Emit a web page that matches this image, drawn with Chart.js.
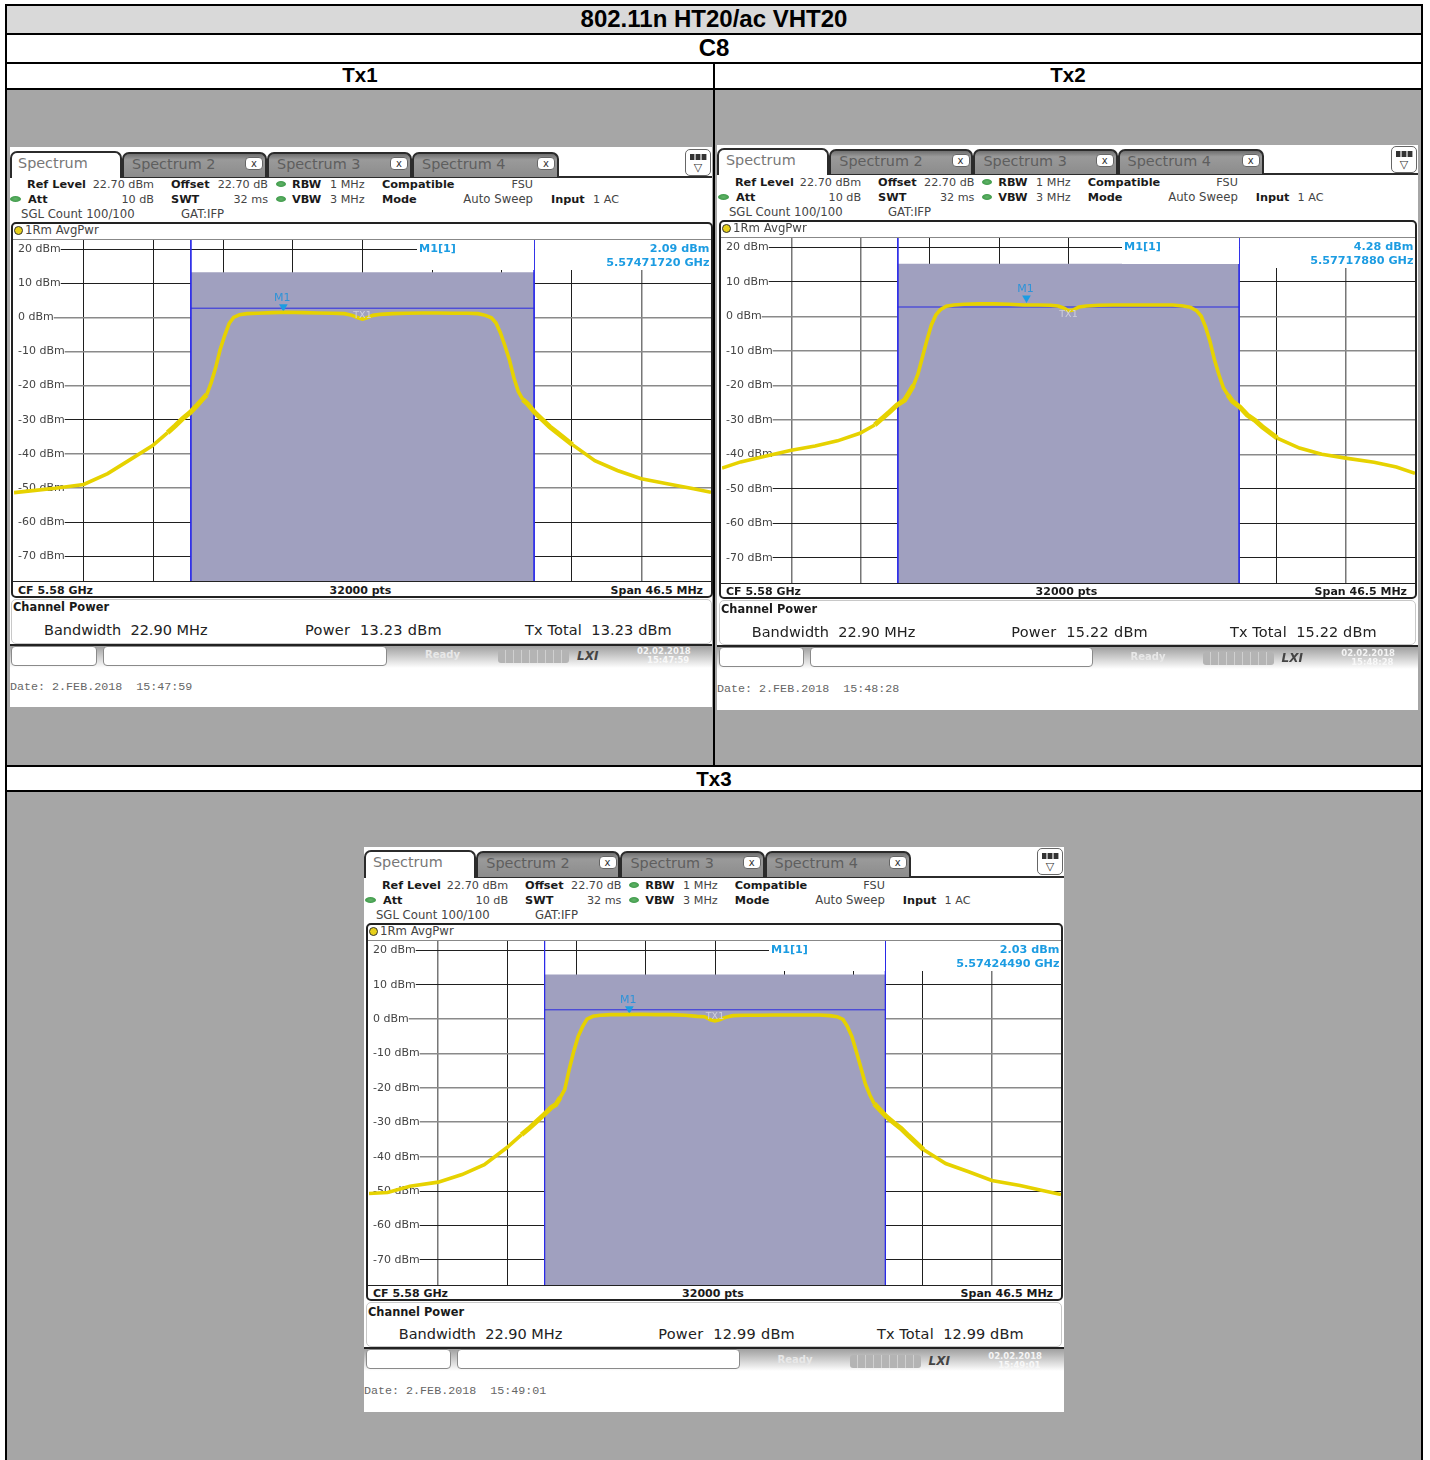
<!DOCTYPE html>
<html>
<head>
<meta charset="utf-8">
<title>802.11n HT20/ac VHT20 C8</title>
<script src="https://cdn.jsdelivr.net/npm/chart.js@4"></script>
<style>
html, body { margin: 0; padding: 0; background: #fff; }
#page { position: relative; width: 1430px; height: 1460px; overflow: hidden; font-family: "DejaVu Sans", sans-serif; }
#page div, #page canvas { position: absolute; box-sizing: border-box; }
.t { white-space: pre; line-height: 1; }
.head { font-family: "Liberation Sans", sans-serif; font-weight: bold; color: #000; text-align: center; line-height: 1; }
.tab { background: linear-gradient(#6f6f6f, #9a9a9a 25%, #8c8c8c); border: 2px solid #2b2b2b; border-bottom: 0; border-radius: 7px 7px 0 0; }
.tabOn { background: #fff; border: 2px solid #2b2b2b; border-bottom: 0; border-radius: 7px 7px 0 0; }
.x { background: #fff; border: 1px solid #666; border-radius: 4px; font-size: 10px; line-height: 11px; text-align: center; color: #333; }
.led { background: radial-gradient(ellipse at center, #63b46a, #2f8f3c); border-radius: 50%; }
.input { background: #fff; border: 1px solid #8a8a8a; border-radius: 4px; }
</style>
</head>
<body>
<div id="page"></div>
<script>
// frequency offset from the 5.58 GHz centre, MHz
const freqOffsets = [-23.25, -22, -20.5, -18.6, -17, -15.5, -14, -13, -12.5, -12, -11.5, -11, -10.7, -10.4, -10.1, -9.8, -9.5, -9.2, -8.9, -8.6, -8.2, -7.7, -7, -6, -5, -4, -3, -2, -1.2, -0.7, -0.3, 0, 0.3, 0.7, 1.2, 2, 3, 4, 5, 6, 7, 7.7, 8.2, 8.6, 8.9, 9.2, 9.5, 9.8, 10.1, 10.4, 10.7, 11, 11.5, 12, 12.5, 13, 14, 15.5, 17, 18.6, 20.5, 22, 23.25];

// trace levels, dBm
const tx1Trace = [-51.4, -50.8, -50.1, -49, -45.8, -41.7, -37.6, -33.8, -31.8, -29.7, -27.9, -25.6, -24.1, -22.7, -19.2, -14.8, -9.5, -5.4, -1.8, 0, 0.8, 1.1, 1.2, 1.4, 1.5, 1.4, 1.3, 1.2, 1.1, 0.6, -0.1, -0.5, -0.1, 0.6, 0.9, 1.1, 1.2, 1.3, 1.3, 1.2, 1.2, 1.1, 0.6, -0.1, -1.6, -4.5, -8.3, -12.4, -17.7, -21.8, -24.1, -25.3, -27.9, -30, -32.1, -33.8, -37.3, -42, -44.9, -47.3, -48.9, -50.2, -51.3];
const tx2Trace = [-44, -42.2, -40.7, -38.8, -37.6, -36.1, -33.9, -31.5, -29.6, -27.7, -25.7, -24.3, -22.2, -20, -16.7, -11.8, -6.9, -2.5, 0.4, 1.9, 2.9, 3.3, 3.5, 3.6, 3.6, 3.5, 3.3, 3.3, 3.2, 3, 2.4, 1.6, 1.8, 2.7, 3, 3.2, 3.3, 3.3, 3.3, 3.3, 3.3, 3, 2.6, 1.6, 0.1, -3.1, -7.4, -12.7, -17, -20.8, -22.8, -24.6, -26.3, -28.6, -30.1, -32, -35.3, -38.2, -40, -41.1, -42.3, -43.7, -45.5];
const tx3Trace = [-50.7, -50.4, -48.6, -47.4, -45.2, -42.3, -37.4, -33.6, -31.8, -29.8, -27.8, -25.7, -24.9, -22.8, -20.5, -14.7, -9.5, -5.1, -2.2, 0, 0.8, 1.1, 1.3, 1.3, 1.4, 1.3, 1.3, 1.1, 0.8, 0.7, -0.2, -0.5, -0.2, 0.5, 1, 1.1, 1.1, 1.2, 1.2, 1.2, 1.2, 1, 0.7, -0.1, -2.2, -5.1, -9.5, -14.1, -18.8, -22, -24.6, -26, -28.3, -30.1, -31.8, -33.9, -37.9, -42, -44.3, -46.9, -48.4, -49.8, -51];

const dbTicks = [20, 10, 0, -10, -20, -30, -40, -50, -60, -70];
const freqTicks = [-18.6, -13.95, -9.3, -4.65, 0, 4.65, 9.3, 13.95, 18.6];
const channelEdges = [-11.45, 11.45];
const refLevel = 22.7;
const bottomLevel = -77.3;
const limitLevel = 2.7;

const channelPower = [13.23, 15.22, 12.99];
const markerLevel = [2.09, 4.28, 2.03];
const markerOffset = [-5.28, -2.82, -5.755];
const markerFreqText = ['5.57471720 GHz', '5.57717880 GHz', '5.57424490 GHz'];
const dateText = ['Date: 2.FEB.2018  15:47:59', 'Date: 2.FEB.2018  15:48:28', 'Date: 2.FEB.2018  15:49:01'];
const clockText = ['15:47:59', '15:48:28', '15:49:01'];
const traces = [tx1Trace, tx2Trace, tx3Trace];

const page = document.getElementById('page');

function box(x, y, w, h, css, cls) {
    const d = document.createElement('div');
    d.style.cssText = 'left:' + x + 'px;top:' + y + 'px;width:' + w + 'px;height:' + h + 'px;' + (css || '');
    if (cls) d.className = cls;
    page.appendChild(d);
    return d;
}

// align: l or r, y is the text centre
function text(x, y, str, css, align) {
    const d = document.createElement('div');
    d.className = 't';
    d.textContent = str;
    const tx = align === 'r' ? '-100%' : align === 'c' ? '-50%' : '0';
    d.style.cssText = 'left:' + x + 'px;top:' + y + 'px;transform:translate(' + tx + ',-50%);' + (css || '');
    page.appendChild(d);
    return d;
}

function head(x, y, w, h, str, size) {
    const d = box(x, y, w, h, 'font-size:' + size + 'px;line-height:' + h + 'px;', 'head');
    d.textContent = str;
}

// document table
box(5, 4, 1418, 1460, 'background:#000');
box(7, 6, 1414, 27, 'background:#d9d9d9');
box(7, 35, 1414, 27, 'background:#fff');
box(7, 64, 706, 24, 'background:#fff');
box(715, 64, 706, 24, 'background:#fff');
box(7, 90, 706, 675, 'background:#a6a6a6');
box(715, 90, 706, 675, 'background:#a6a6a6');
box(7, 767, 1414, 23, 'background:#fff');
box(7, 792, 1414, 670, 'background:#a6a6a6');
head(7, 5, 1414, 27, '802.11n HT20/ac VHT20', 24);
head(7, 34, 1414, 27, 'C8', 24);
head(7, 63, 706, 24, 'Tx1', 20.5);
head(715, 63, 706, 24, 'Tx2', 20.5);
head(7, 767, 1414, 23, 'Tx3', 20.5);

const panels = [
    { left: 10, ox: 10, sx: 1, right: 712, top: 147, bottom: 707, tabTop: 151, tabBottom: 177, rows: [185, 200, 215], titleY: 231, frameTop: 222,
      plotLeft: 14, plotRight: 711, plotTop: 240, plotBottom: 581, footY: 590, frameBottom: 598, cpY: 607, cpRowY: 630, cpBottom: 644, statusY: 655, dateY: 688,
      txLabelY: 315, maskLeft: 417, softY: [0, -10, -20, -40, -50], softX: [18.6] },
    { left: 717, ox: 718, sx: 0.994, right: 1418, top: 145, bottom: 710, tabTop: 148, tabBottom: 174, rows: [183, 198, 213], titleY: 229, frameTop: 220,
      plotLeft: 722, plotRight: 1415, plotTop: 238, plotBottom: 583, footY: 591, frameBottom: 599, cpY: 609, cpRowY: 632, cpBottom: 645, statusY: 657, dateY: 689.5,
      txLabelY: 314, maskLeft: 1122, softY: [0, -10, -20, -30, -40], softX: [-18.6, -13.95, 18.6] },
    { left: 364, ox: 365, sx: 0.994, right: 1064, top: 847, bottom: 1412, tabTop: 850, tabBottom: 877, rows: [886, 901, 916], titleY: 932, frameTop: 923,
      plotLeft: 369, plotRight: 1061, plotTop: 941, plotBottom: 1285, footY: 1293, frameBottom: 1301, cpY: 1312, cpRowY: 1334, cpBottom: 1347, statusY: 1360, dateY: 1392,
      txLabelY: 1016, maskLeft: 769, softY: [0, -10, -20, -30, -40], softX: [-18.6, 18.6] }
];

const regular = 'font-size:11.2px;color:#444;';
const wide = 'font-size:11.7px;color:#444;';
const strong = 'font-size:11.3px;font-weight:bold;color:#1a1a1a;';
const foot = 'font-size:11px;font-weight:bold;color:#1a1a1a;';
const cyan = 'font-size:11.2px;font-weight:bold;color:#1c9ce2;';
const tabNames = ['Spectrum 2', 'Spectrum 3', 'Spectrum 4'];

function drawPanel(p, i) {
    const X = u => p.ox + (u - 10) * p.sx;
    const width = p.right - p.left;

    box(p.left, p.top, width, p.bottom - p.top, 'background:#fff');

    // tabs
    const tabStops = [122, 267, 412, 559];
    box(X(122), p.tabBottom - 1, p.right - X(122), 2, 'background:#2b2b2b');
    for (let k = 0; k < 3; k++) {
        box(X(tabStops[k]), p.tabTop + 1, X(tabStops[k + 1]) - X(tabStops[k]), p.tabBottom - p.tabTop - 1, '', 'tab');
        text(X(tabStops[k] + 10), p.tabTop + 12.5, tabNames[k], 'font-size:14.4px;color:#5e5e5e;');
        const b = box(X(tabStops[k + 1] - 22), p.tabTop + 6, 18, 13, '', 'x');
        b.textContent = 'x';
    }
    box(p.left, p.tabTop, X(122) - p.left, p.tabBottom - p.tabTop + 1, '', 'tabOn');
    text(X(18), p.tabTop + 11.5, 'Spectrum', 'font-size:14.4px;color:#777;');
    box(p.right - 27, p.tabTop - 2, 26, 27, 'background:#fff;border:1px solid #666;border-radius:5px;');
    box(p.right - 22, p.tabTop + 3, 17, 6, 'background:repeating-linear-gradient(90deg,#333 0 4px,#aaa 4px 6px);');
    text(p.right - 14, p.tabTop + 16, '\u25BD', 'font-size:11px;color:#333;', 'c');

    // settings block
    const r = p.rows;
    text(X(27), r[0], 'Ref Level', strong);
    text(X(154), r[0], '22.70 dBm', regular, 'r');
    text(X(28), r[1], 'Att', strong);
    text(X(154), r[1], '10 dB', regular, 'r');
    text(X(21), r[2], 'SGL Count 100/100', wide);
    text(X(171), r[0], 'Offset', strong);
    text(X(268), r[0], '22.70 dB', regular, 'r');
    text(X(171), r[1], 'SWT', strong);
    text(X(268), r[1], '32 ms', regular, 'r');
    text(X(181), r[2], 'GAT:IFP', wide);
    text(X(292), r[0], 'RBW', strong);
    text(X(330), r[0], '1 MHz', regular);
    text(X(292), r[1], 'VBW', strong);
    text(X(330), r[1], '3 MHz', regular);
    text(X(382), r[0], 'Compatible', strong);
    text(X(382), r[1], 'Mode', strong);
    text(X(533), r[0], 'FSU', regular, 'r');
    text(X(533), r[1], 'Auto Sweep', wide, 'r');
    text(X(551), r[1], 'Input', strong);
    text(X(593), r[1], '1 AC', regular);
    box(X(10), r[1] - 4, 11, 6, '', 'led');
    box(X(276), r[0] - 4, 10, 6, '', 'led');
    box(X(276), r[1] - 4, 10, 6, '', 'led');

    // diagram frame
    box(p.plotLeft - 3, p.frameTop, p.plotRight - p.plotLeft + 5, p.frameBottom - p.frameTop, 'border:2px solid #222;border-radius:5px;background:#fff');
    box(p.plotLeft - 1, p.plotTop - 1, p.plotRight - p.plotLeft + 1, 1, 'background:#888');
    box(p.plotLeft, p.titleY - 5, 9, 9, 'background:#e6cf1a;border:1px solid #333;border-radius:50%;');
    text(p.plotLeft + 11, p.titleY, '1Rm AvgPwr', wide);

    // the spectrum itself
    const cv = document.createElement('canvas');
    const w = p.plotRight - p.plotLeft;
    const h = p.plotBottom - p.plotTop;
    cv.width = w;
    cv.height = h;
    cv.style.cssText = 'left:' + p.plotLeft + 'px;top:' + p.plotTop + 'px;width:' + w + 'px;height:' + h + 'px;';
    page.appendChild(cv);
    box(p.plotLeft - 1, p.plotBottom, w + 1, 1, 'background:#222');
    box(p.plotRight, p.plotTop, 1, h, 'background:#222');
    buildChart(cv, p, i);

    // marker table sits on top of the diagram
    const pxPerDb = h / 100;
    const shadeDepth = (refLevel - channelPower[i]) * pxPerDb;
    const edgeX = p.plotLeft + (channelEdges[1] + 23.25) * w / 46.5;
    box(p.maskLeft, p.plotTop, edgeX - 0.6 - p.maskLeft, Math.min(30, shadeDepth), 'background:#fff');
    box(edgeX + 0.6, p.plotTop, p.plotRight - edgeX - 0.6, 30, 'background:#fff');
    text(p.maskLeft + 2, p.plotTop + 8.5, 'M1[1]', cyan);
    text(p.plotRight - 1.5, p.plotTop + 8.5, markerLevel[i].toFixed(2) + ' dBm', cyan, 'r');
    text(p.plotRight - 1.5, p.plotTop + 23, markerFreqText[i], cyan, 'r');

    const cx = (p.plotLeft + p.plotRight) / 2;
    const markerY = p.plotTop + (refLevel - markerLevel[i]) * pxPerDb;
    const markerX = p.plotLeft + (markerOffset[i] + 23.25) * w / 46.5;
    text(markerX - 1, markerY - 13.5, 'M1', 'font-size:11px;color:#2f93d8;', 'c');
    text(cx, p.txLabelY, 'TX1', 'font-size:9.5px;color:#cfcfdc;', 'c');

    // diagram footer
    text(p.plotLeft + 4, p.footY, 'CF 5.58 GHz', foot);
    text(cx - 2, p.footY, '32000 pts', foot, 'c');
    text(p.plotRight - 8, p.footY, 'Span 46.5 MHz', foot, 'r');

    // channel power result
    box(p.plotLeft - 3, p.frameBottom + 1, p.plotRight - p.plotLeft + 4, p.cpBottom - p.frameBottom - 1, 'border:1px solid #c8c8c8;border-radius:5px;background:#fff');
    const cpCss = 'font-size:14.5px;color:#222;';
    text(p.plotLeft - 1, p.cpY + 1, 'Channel Power', 'font-size:11.4px;font-weight:bold;color:#1a1a1a;');
    const pw = channelPower[i].toFixed(2) + ' dBm';
    text(X(44), p.cpRowY, 'Bandwidth  22.90 MHz', cpCss);
    text(X(305), p.cpRowY, 'Power  ' + pw, cpCss + 'letter-spacing:.27px;');
    text(X(525), p.cpRowY, 'Tx Total  ' + pw, cpCss + 'letter-spacing:.12px;');

    // status bar
    box(p.left, p.cpBottom, width, 2, 'background:#222');
    box(p.left, p.cpBottom + 2, width, 22, 'background:linear-gradient(#a0a0a0,#fff)');
    box(X(11), p.cpBottom + 2, X(97) - X(11), 20, '', 'input');
    box(X(103), p.cpBottom + 2, X(387) - X(103), 20, '', 'input');
    text(X(425), p.statusY, 'Ready', 'font-size:10px;font-weight:bold;color:#e8e8e8;');
    box(X(498), p.statusY - 5, X(569) - X(498), 13, 'background:repeating-linear-gradient(90deg,#b4b4b4 0 7px,#d0d0d0 7px 8px);border-radius:3px;');
    text(X(577), p.statusY + 1, 'LXI', 'font-size:12px;font-weight:bold;font-style:italic;color:#444;');
    text(X(637), p.statusY - 4, '02.02.2018', 'font-size:8.5px;font-weight:bold;color:#f4f4f4;');
    text(X(647), p.statusY + 5, clockText[i], 'font-size:8.5px;font-weight:bold;color:#f8f8f8;');

    text(p.left, p.dateY, dateText[i], 'font-family:Liberation Mono,monospace;font-size:11.7px;color:#666;');
}

function buildChart(cv, p, i) {
    const lo = channelEdges[0];
    const hi = channelEdges[1];
    const pw = channelPower[i];
    const traceData = freqOffsets.map((f, k) => ({ x: f, y: traces[i][k] }));
    new Chart(cv, {
        type: 'line',
        data: {
            datasets: [
                { data: traceData, borderColor: '#e6d200', borderWidth: 3.6, pointRadius: 0, tension: 0, order: 0,
                  segment: { borderWidth: c => { const a = Math.abs(c.p0.parsed.x); return a >= 10.7 && a <= 13 ? 5 : 3.6; } } },
                { data: [{ x: markerOffset[i], y: markerLevel[i] + 1 }], showLine: false, pointStyle: 'triangle', rotation: 180, pointRadius: 5, pointBackgroundColor: '#1c9ce2', pointBorderWidth: 0, order: 1 },
                { data: [{ x: lo, y: limitLevel }, { x: hi, y: limitLevel }], borderColor: '#2a2ae0', borderWidth: 1, pointRadius: 0, order: 2 },
                { data: [{ x: lo, y: refLevel }, { x: lo, y: bottomLevel }], borderColor: '#2a2ae8', borderWidth: 1, pointRadius: 0, order: 2 },
                { data: [{ x: hi, y: refLevel }, { x: hi, y: bottomLevel }], borderColor: '#2a2ae8', borderWidth: 1, pointRadius: 0, order: 2 },
                { data: [{ x: lo, y: bottomLevel }, { x: lo, y: pw }, { x: hi, y: pw }, { x: hi, y: bottomLevel }], borderWidth: 0, pointRadius: 0, fill: 'start', backgroundColor: '#a0a0bf', order: 3 }
            ]
        },
        options: {
            responsive: false,
            animation: false,
            devicePixelRatio: 1,
            layout: { padding: 0, autoPadding: false },
            plugins: { legend: { display: false }, tooltip: { enabled: false } },
            scales: {
                x: {
                    type: 'linear', min: -23.25, max: 23.25,
                    afterBuildTicks: s => { s.ticks = freqTicks.map(v => ({ value: v })); },
                    afterFit: s => { s.paddingLeft = 0; s.paddingRight = 0; s.height = 0; },
                    border: { display: false },
                    grid: {
                        drawTicks: false,
                        color: c => p.softX.includes(c.tick && c.tick.value) ? '#777' : '#1f1f1f',
                        lineWidth: c => p.softX.includes(c.tick && c.tick.value) ? 1.5 : 1
                    },
                    ticks: { display: false }
                },
                y: {
                    type: 'linear', min: bottomLevel, max: refLevel,
                    afterBuildTicks: s => { s.ticks = dbTicks.map(v => ({ value: v })); },
                    afterFit: s => { s.paddingTop = 0; s.paddingBottom = 0; s.width = 0; },
                    border: { display: false },
                    grid: {
                        drawTicks: false,
                        color: c => p.softY.includes(c.tick && c.tick.value) ? '#8a8a8a' : '#1f1f1f',
                        lineWidth: c => p.softY.includes(c.tick && c.tick.value) ? 1.6 : 1
                    },
                    ticks: {
                        mirror: true, padding: 4, autoSkip: false, color: '#444',
                        font: { family: 'DejaVu Sans', size: 11 },
                        showLabelBackdrop: true, backdropColor: '#fff',
                        backdropPadding: { left: 4, right: 0, top: 2, bottom: 2 },
                        callback: v => v + ' dBm'
                    }
                }
            }
        }
    });
}

panels.forEach(drawPanel);
</script>
</body>
</html>
